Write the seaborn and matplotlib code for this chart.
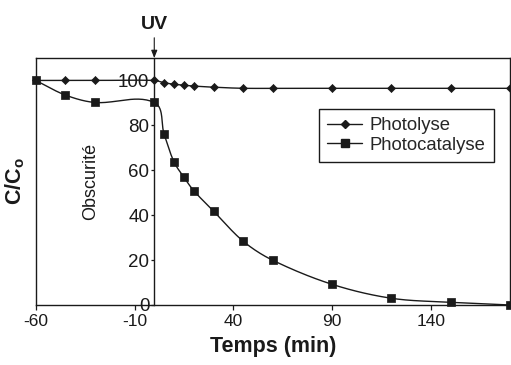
import numpy as np
import matplotlib
matplotlib.use("Agg")
import matplotlib.pyplot as plt
from matplotlib.lines import Line2D
import seaborn as sns

# ---- data ----
photolyse_t = [-60, -45, -30, 0, 5, 10, 15, 20, 30, 45, 60, 90, 120, 150, 180]
photolyse_c = [100, 100, 100, 100, 99, 98.3, 97.9, 97.5, 97, 96.5, 96.5, 96.5, 96.5, 96.5, 96.5]
photocat_t = [-60, -45, -30, 0, 5, 10, 15, 20, 30, 45, 60, 90, 120, 150, 180]
photocat_c = [100, 93.5, 90.2, 90.2, 76, 63.7, 56.9, 50.9, 41.8, 28.4, 19.9, 9.2, 3.0, 1.2, 0]
xticks = [-60, -10, 40, 90, 140]
yticks = [0, 20, 40, 60, 80, 100]
series_labels = ["Photolyse", "Photocatalyse"]

sns.set_style("white")
plt.rcParams["font.family"] = ["Liberation Sans", "DejaVu Sans"]
plt.rcParams["mathtext.fontset"] = "custom"
plt.rcParams["mathtext.rm"] = "Liberation Sans"
plt.rcParams["mathtext.bf"] = "Liberation Sans:bold"

INK = "#1a1a1a"


def smooth(x, y, n=30, sx=1.98, sy=2.24):
    """Bezier smoothing through the data points with chord-scaled tangents
    (similar to a spreadsheet's smoothed line)."""
    P = np.column_stack([np.asarray(x, float) * sx, np.asarray(y, float) * sy])
    m = len(P)
    D = np.zeros_like(P)
    for i in range(m):
        a = P[max(i - 1, 0)]
        b = P[min(i + 1, m - 1)]
        v = b - a
        D[i] = v / np.linalg.norm(v)
    out = []
    u = np.linspace(0, 1, n)[:, None]
    for i in range(m - 1):
        p0, p3 = P[i], P[i + 1]
        L = np.linalg.norm(p3 - p0)
        p1 = p0 + D[i] * L / 3
        p2 = p3 - D[i + 1] * L / 3
        C = ((1 - u) ** 3) * p0 + 3 * ((1 - u) ** 2) * u * p1 + 3 * (1 - u) * u ** 2 * p2 + u ** 3 * p3
        out.append(C if i == 0 else C[1:])
    C = np.vstack(out)
    return C[:, 0] / sx, C[:, 1] / sy


fig = plt.figure(figsize=(5.11, 3.65), dpi=100)
ax = fig.add_axes([0.0699, 0.1644, 0.928, 0.6767])

for t, c, mk, ms in [(photolyse_t, photolyse_c, "D", 4.1),
                     (photocat_t, photocat_c, "s", 5.6)]:
    xs, ys = smooth(t, c)
    sns.lineplot(x=xs, y=ys, sort=False, estimator=None, color=INK, lw=1.0, ax=ax,
                 zorder=3)
    sns.scatterplot(x=t, y=c, marker=mk, s=ms ** 2, color=INK, edgecolor=INK,
                    linewidth=0.5, ax=ax, zorder=4, clip_on=False)

ax.set_xlim(-60, 180)
ax.set_ylim(0, 110)

for s in ax.spines.values():
    s.set_color(INK)
    s.set_linewidth(1.0)

ax.set_xticks(xticks)
ax.set_xticklabels([str(v) for v in xticks])
ax.tick_params(axis="x", direction="out", length=3.5, width=0.9, pad=3,
               labelsize=12.5, colors=INK, bottom=True)
ax.tick_params(axis="y", left=False, labelleft=False)

# y axis sits at t = 0 (UV switched on)
sec = ax.secondary_yaxis(0.25)
sec.set_yticks(yticks)
sec.set_yticklabels([str(v) for v in yticks])
sec.tick_params(axis="y", direction="out", length=2.5, width=0.9, pad=1,
                labelsize=13.5, colors=INK)
sec.spines["left"].set_linewidth(1.0)
sec.spines["left"].set_color(INK)

ax.set_xlabel("Temps (min)", fontsize=15.5, fontweight="bold", labelpad=5, color=INK)
ax.set_ylabel(r"$\mathbf{C/C_o}$", fontsize=15.5, labelpad=6, color=INK)

ax.text(-32, 55, "Obscurité", rotation=90, ha="center", va="center",
        fontsize=13, color=INK)

ax.annotate("", xy=(0, 110), xytext=(0, 119), annotation_clip=False,
            arrowprops=dict(arrowstyle="-|>,head_length=0.45,head_width=0.18",
                            color=INK, lw=0.8, shrinkA=0, shrinkB=0))
ax.text(0, 125, "UV", ha="center", va="center", fontsize=14, fontweight="bold",
        color=INK, clip_on=False)

handles = [
    Line2D([], [], color=INK, lw=1.0, marker="D", ms=4.1, label=series_labels[0]),
    Line2D([], [], color=INK, lw=1.0, marker="s", ms=5.6, label=series_labels[1]),
]
leg = ax.legend(handles=handles, loc="upper right", bbox_to_anchor=(0.966, 0.794),
                borderaxespad=0, frameon=True, fancybox=False, fontsize=13.3,
                handlelength=1.9, handletextpad=0.4, labelspacing=0.15,
                borderpad=0.45)
leg.get_frame().set_edgecolor(INK)
leg.get_frame().set_linewidth(1.0)
leg.get_frame().set_alpha(1)

fig.savefig("out.png", dpi=100)
